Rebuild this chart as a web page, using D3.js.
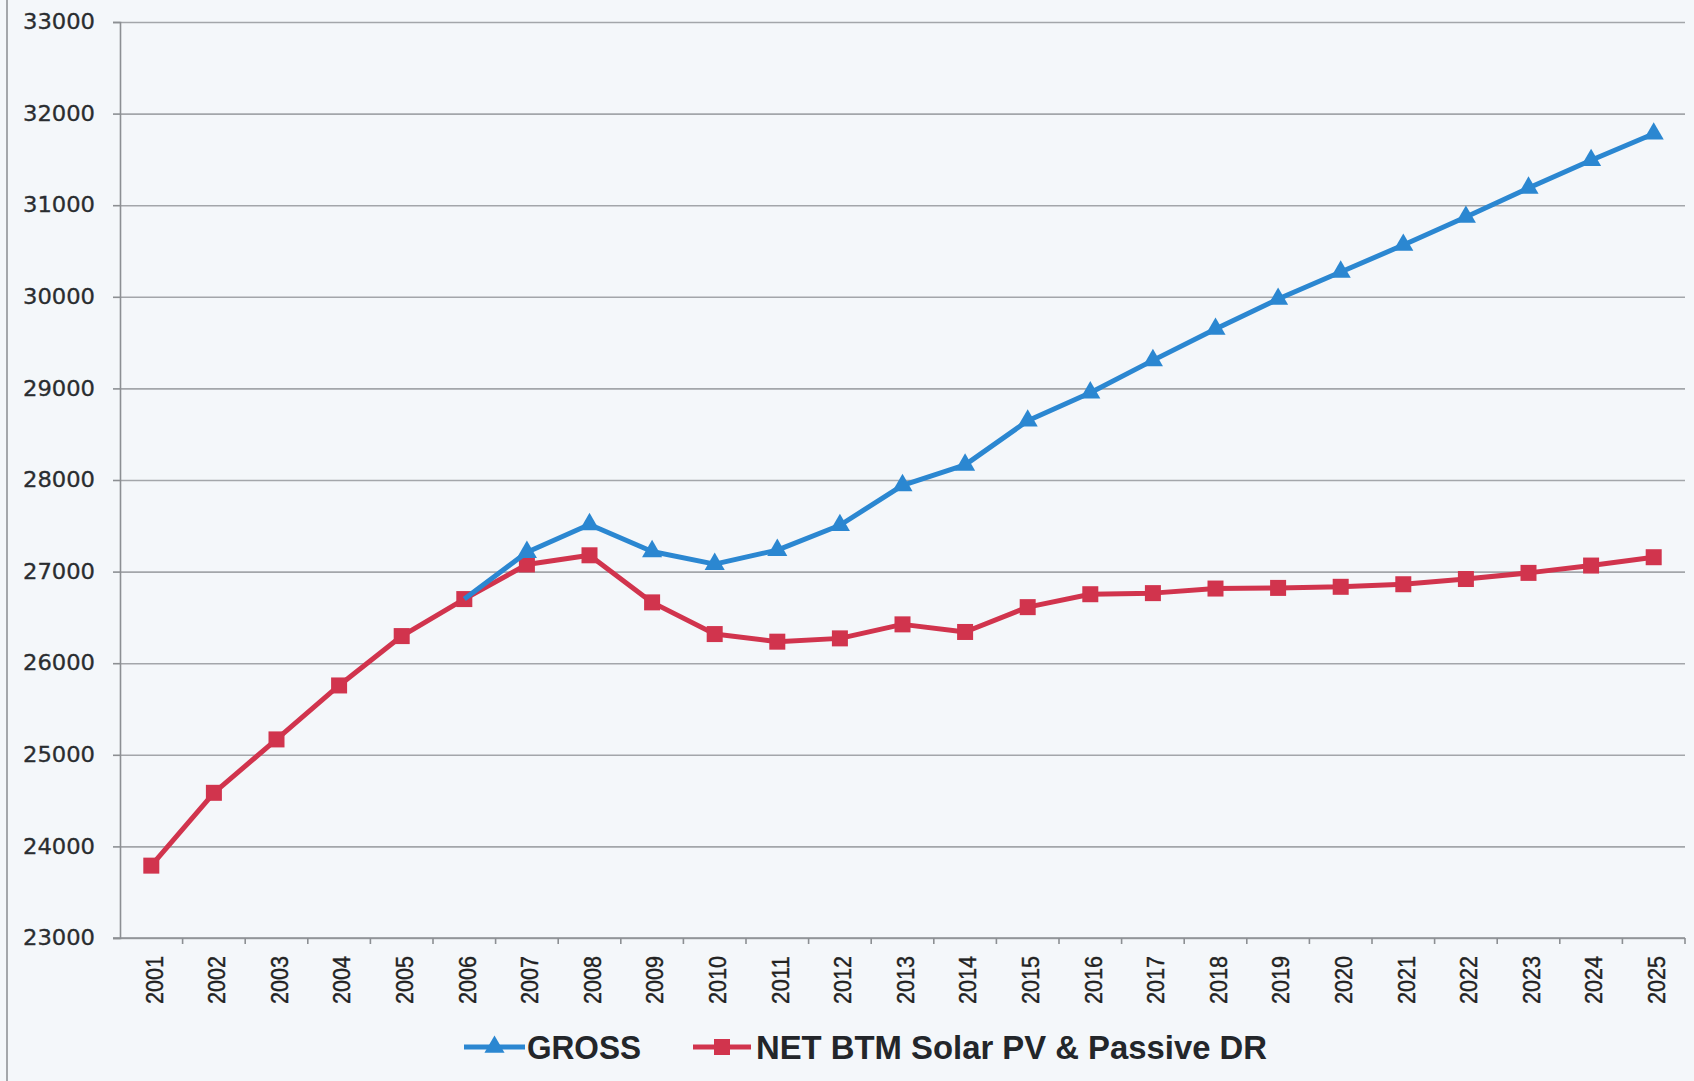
<!DOCTYPE html>
<html>
<head>
<meta charset="utf-8">
<script src="https://cdn.jsdelivr.net/npm/d3@7"></script>
<style>
	body { margin: 0; background: #f4f7fa; }
	svg { display: block; }
</style>
</head>
<body>
<svg id="chart" width="1694" height="1081"></svg>
<script>
const years = ["2001", "2002", "2003", "2004", "2005", "2006", "2007", "2008", "2009", "2010",
	"2011", "2012", "2013", "2014", "2015", "2016", "2017", "2018", "2019", "2020",
	"2021", "2022", "2023", "2024", "2025"];

// gross starts where it leaves the net line (2006)
const grossYears = years.slice(5);
const gross = [26700, 27212, 27515, 27220, 27082, 27235, 27506, 27941, 28165, 28647,
	28953, 29306, 29648, 29976, 30271, 30565, 30871, 31188, 31490, 31780];

const net = [23790, 24585, 25168, 25757, 26296, 26700, 27078, 27178, 26664, 26318,
	26235, 26271, 26424, 26341, 26612, 26753, 26765, 26815, 26822, 26834,
	26862, 26919, 26986, 27066, 27157];

const yTicks = [23000, 24000, 25000, 26000, 27000, 28000, 29000, 30000, 31000, 32000, 33000];

const seriesNames = ["GROSS", "NET BTM Solar PV & Passive DR"];
const seriesColors = ["#2b87d1", "#d1344d"];

const svg = d3.select("#chart");
const plot = { left: 120, right: 1685, top: 22, bottom: 938 };

// scanned page edge
svg.append("line")
	.attr("x1", 7).attr("x2", 7)
	.attr("y1", 0).attr("y2", 1081)
	.attr("stroke", "#8a8d90")
	.attr("stroke-width", 1.5);

let x = d3.scaleBand()
	.domain(years)
	.range([plot.left, plot.right])
	.padding(0);

let y = d3.scaleLinear()
	.domain([23000, 33000])
	.range([plot.bottom, plot.top]);

// gridlines
svg.append("g")
	.attr("transform", `translate(${plot.left},0)`)
	.call(d3.axisLeft(y).tickValues(yTicks).tickSize(-(plot.right - plot.left)).tickFormat(""))
	.call((g) => g.select(".domain").remove())
	.call((g) => g.selectAll("line").attr("stroke", "#a3a6aa").attr("stroke-width", 1.6));

// y axis
let yAxisG = svg.append("g")
	.attr("transform", `translate(${plot.left},0)`)
	.call(d3.axisLeft(y).tickValues(yTicks).tickSize(7).tickPadding(18).tickFormat(d3.format("d")));

yAxisG.select(".domain").attr("stroke", "#8c8f93").attr("stroke-width", 1.6);
yAxisG.selectAll("line").attr("stroke", "#8c8f93").attr("stroke-width", 1.6);
yAxisG.selectAll("text")
	.attr("font-family", "DejaVu Sans, Verdana, sans-serif")
	.attr("font-size", 21)
	.attr("textLength", 72)
	.attr("lengthAdjust", "spacingAndGlyphs")
	.attr("fill", "#2a2d30")
	.attr("stroke", "#2a2d30")
	.attr("stroke-width", 0.3);

// x axis
let xAxisG = svg.append("g")
	.attr("transform", `translate(0,${plot.bottom})`);

xAxisG.append("line")
	.attr("x1", plot.left - 7).attr("x2", plot.right)
	.attr("y1", 0).attr("y2", 0)
	.attr("stroke", "#8c8f93")
	.attr("stroke-width", 1.6);

xAxisG.selectAll("line.tick")
	.data(years.slice(1).concat(["end"]))
	.join("line")
	.classed("tick", true)
	.attr("x1", (d) => (d === "end" ? plot.right : x(d)))
	.attr("x2", (d) => (d === "end" ? plot.right : x(d)))
	.attr("y1", 0)
	.attr("y2", 6)
	.attr("stroke", "#8c8f93")
	.attr("stroke-width", 1.6);

xAxisG.selectAll("text")
	.data(years)
	.join("text")
	.attr("transform", (d) => `translate(${x(d) + x.bandwidth() / 2 + 3},18) rotate(-90)`)
	.attr("text-anchor", "end")
	.attr("dy", "0.36em")
	.attr("font-family", "Liberation Sans, Arial, sans-serif")
	.attr("font-size", 23)
	.attr("textLength", 48)
	.attr("lengthAdjust", "spacingAndGlyphs")
	.attr("fill", "#222")
	.attr("stroke", "#222")
	.attr("stroke-width", 0.4)
	.text((d) => d);

let cx = (d) => x(d) + x.bandwidth() / 2;
let line = d3.line();

let triangle = d3.symbol().type(d3.symbolTriangle).size(175);

// net series
let netPts = years.map((d, i) => [cx(d), y(net[i])]);
svg.append("path")
	.attr("d", line(netPts))
	.attr("fill", "none")
	.attr("stroke", seriesColors[1])
	.attr("stroke-width", 5)
	.attr("stroke-linejoin", "round");

svg.append("g")
	.selectAll("rect")
	.data(netPts)
	.join("rect")
	.attr("x", (d) => d[0] - 8)
	.attr("y", (d) => d[1] - 8)
	.attr("width", 16)
	.attr("height", 16)
	.attr("fill", seriesColors[1]);

// gross series
let grossPts = grossYears.map((d, i) => [cx(d), y(gross[i])]);
svg.append("path")
	.attr("d", line(grossPts))
	.attr("fill", "none")
	.attr("stroke", seriesColors[0])
	.attr("stroke-width", 5)
	.attr("stroke-linejoin", "round");

svg.append("g")
	.selectAll("path")
	.data(grossPts.slice(1))
	.join("path")
	.attr("d", triangle)
	.attr("transform", (d) => `translate(${d[0]},${d[1]})`)
	.attr("fill", seriesColors[0]);

// legend
let legend = [
	{ name: seriesNames[0], color: seriesColors[0], x0: 464, x1: 525, tx: 527, tw: 114, mark: "tri" },
	{ name: seriesNames[1], color: seriesColors[1], x0: 693, x1: 751, tx: 756, tw: 511, mark: "sq" },
];
let legendY = 1047;

let legendG = svg.append("g");
legend.forEach((l) => {
	legendG.append("line")
		.attr("x1", l.x0).attr("x2", l.x1)
		.attr("y1", legendY).attr("y2", legendY)
		.attr("stroke", l.color)
		.attr("stroke-width", 5);
	let mx = (l.x0 + l.x1) / 2;
	if (l.mark === "tri") {
		legendG.append("path")
			.attr("d", triangle)
			.attr("transform", `translate(${mx},${legendY})`)
			.attr("fill", l.color);
	} else {
		legendG.append("rect")
			.attr("x", mx - 8).attr("y", legendY - 8)
			.attr("width", 16).attr("height", 16)
			.attr("fill", l.color);
	}
	legendG.append("text")
		.attr("x", l.tx)
		.attr("y", legendY + 12)
		.attr("font-family", "Liberation Sans, Arial, sans-serif")
		.attr("font-weight", "bold")
		.attr("font-size", 34)
		.attr("textLength", l.tw)
		.attr("lengthAdjust", "spacingAndGlyphs")
		.attr("fill", "#23262a")
		.text(l.name);
});
</script>
</body>
</html>
